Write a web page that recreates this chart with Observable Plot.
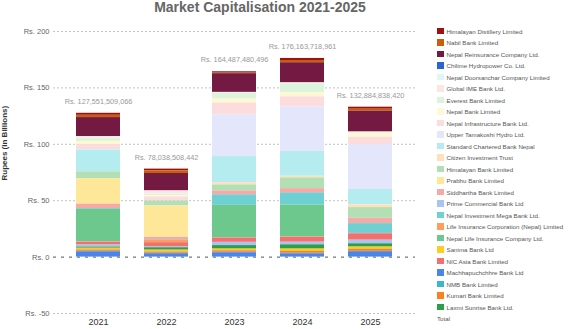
<!DOCTYPE html>
<html><head><meta charset="utf-8">
<script src="https://cdn.jsdelivr.net/npm/d3@7"></script>
<script src="https://cdn.jsdelivr.net/npm/@observablehq/plot@0.6"></script>
<style>
body{margin:0;background:#fff;font-family:"Liberation Sans",Arial,sans-serif;}
#wrap{position:relative;width:587px;height:329px;overflow:hidden;}
#title{position:absolute;left:0;width:520px;top:-1px;text-align:center;font-size:14px;font-weight:bold;color:#666;line-height:16px;}
#legend{position:absolute;left:437px;top:0;width:150px;height:329px;}
.item{position:absolute;left:0;height:11.5px;white-space:nowrap;font-size:6.2px;color:#555;display:flex;align-items:center;}
.sw{width:6.5px;height:6.5px;margin-right:3px;flex:none;}
#chart{position:absolute;left:0;top:0;}
</style></head><body>
<div id="wrap"><div id="chart"></div><div id="title">Market Capitalisation 2021-2025</div><div id="legend"></div></div>
<script>
const years = ["2021", "2022", "2023", "2024", "2025"];
const companies = [
  "Himalayan Distillery Limited",
  "Nabil Bank Limited",
  "Nepal Reinsurance Company Ltd.",
  "Chilime Hydropower Co. Ltd.",
  "Nepal Doorsanchar Company Limited",
  "Global IME Bank Ltd.",
  "Everest Bank Limited",
  "Nepal Bank Limited",
  "Nepal Infrastructure Bank Ltd.",
  "Upper Tamakoshi Hydro Ltd.",
  "Standard Chartered Bank Nepal",
  "Citizen Investment Trust",
  "Himalayan Bank Limited",
  "Prabhu Bank Limited",
  "Siddhartha Bank Limited",
  "Prime Commercial Bank Ltd",
  "Nepal Investment Mega Bank Ltd.",
  "Life Insurance Corporation (Nepal) Limited",
  "Nepal Life Insurance Company Ltd.",
  "Sanima Bank Ltd",
  "NIC Asia Bank Limited",
  "Machhapuchchhre Bank Ltd",
  "NMB Bank Limited",
  "Kumari Bank Limited",
  "Laxmi Sunrise Bank Ltd."
];
const colors = [
  "#a01010", "#c8600a", "#741942", "#2a62d8", "#dff6f8",
  "#fde6e2", "#dcf3dc", "#fff8d2", "#fcdcdc", "#e4e6fc",
  "#b4ecf0", "#ffe0b8", "#b2e0b4", "#ffe79a", "#f6aaa6",
  "#a8c4f4", "#6fd0d4", "#ff9d5c", "#6cc88c", "#ffcc22",
  "#f27070", "#4a86ea", "#3ab8c8", "#ff7f1a", "#2f9e4a"
];
// values in billions of rupees, [2021, 2022, 2023, 2024, 2025]
const s01 = [1.8, 1.5, 1.2, 1.8, 1.8];
const s02 = [2.0, 2.4, 0.5, 2.0, 1.8];
const s03 = [16.9, 15.4, 16.6, 17.8, 18.4];
const s04 = [0.7, 0.5, 0.8, 0.7, 0.9];
const s05 = [0.7, 0.8, 0.5, 0.4, 0.3];
const s06 = [0.6, 2.5, 0.4, 0.4, 0.3];
const s07 = [2.9, 0.8, 5.0, 8.0, 0.3];
const s08 = [2.9, 1.2, 3.6, 3.6, 3.8];
const s09 = [4.4, 3.6, 10.4, 8.9, 6.5];
const s10 = [0.4, 0, 37.0, 39.5, 39.8];
const s11 = [19.3, 0, 23.1, 22.0, 13.6];
const s12 = [0, 0, 2.0, 1.5, 2.4];
const s13 = [6.0, 4.4, 5.3, 9.5, 9.5];
const s14 = [22.7, 28.0, 0, 0, 0];
const s15 = [3.8, 2.4, 3.6, 3.8, 4.7];
const s16 = [2.0, 0.9, 2.9, 2.4, 3.3];
const s17 = [0.4, 0, 8.9, 10.4, 8.3];
const s18 = [0.3, 2.0, 0.3, 0.3, 0.3];
const s19 = [28.8, 0, 28.7, 28.2, 0];
const s20 = [1.7, 1.8, 1.7, 2.3, 2.3];
const s21 = [2.4, 3.6, 3.8, 4.4, 5.6];
const s22 = [4.6, 3.0, 3.6, 2.8, 4.4];
const s23 = [0.3, 0.2, 0.3, 0.3, 0.4];
const s24 = [1.0, 1.0, 1.2, 1.5, 1.5];
const s25 = [0.9, 2.0, 2.9, 3.6, 2.7];
const seriesValues = [s01, s02, s03, s04, s05, s06, s07, s08, s09, s10, s11, s12, s13,
  s14, s15, s16, s17, s18, s19, s20, s21, s22, s23, s24, s25];
// stacking order, bottom to top (1-based legend positions)
const stackOrder = [22, 4, 24, 20, 25, 16, 21, 18, 19, 17, 23, 15, 14, 13, 12, 11, 10, 9, 8, 7, 5, 6, 3, 2, 1];
const totals = [127.551509066, 78.038508442, 164.487480496, 176.163718961, 132.884838420];
const totalLabels = ["Rs. 127,551,509,066", "Rs. 78,038,508,442", "Rs. 164,487,480,496", "Rs. 176,163,718,961", "Rs. 132,884,838,420"];
const yTicks = [-50, 0, 50, 100, 150, 200];
const legendExtra = "Total";

const rows = companies.flatMap((name, i) => years.map((year, j) => ({year, name, value: seriesValues[i][j]})));
const orderNames = stackOrder.map(k => companies[k - 1]);

const chart = Plot.plot({
  width: 587, height: 329,
  marginLeft: 53, marginRight: 172, marginTop: 31, marginBottom: 16,
  x: {domain: years, paddingInner: 0.35, paddingOuter: 0.335, label: null},
  y: {domain: [-50, 200], label: null},
  color: {domain: companies, range: colors},
  style: {fontFamily: "'Liberation Sans', Arial, sans-serif", background: "transparent"},
  marks: [
    Plot.ruleY(yTicks.filter(d => d !== 0), {stroke: "#c2c2c2", strokeDasharray: "2,2"}),
    Plot.ruleY([0], {stroke: "#555", strokeDasharray: "3,5"}),
    Plot.barY(rows, {x: "year", y: "value", z: "name", fill: "name", order: orderNames}),
    Plot.text(years, {x: d => d, y: (d, i) => totals[i], text: (d, i) => totalLabels[i], dy: -11.5, fill: "#999", fontSize: 7.3}),
    Plot.axisY({ticks: yTicks, tickFormat: d => "Rs. " + d, tickSize: 0, tickPadding: 4, fontSize: 7.5, fill: "#666", label: null}),
    Plot.axisX({tickSize: 0, tickPadding: 5, fontSize: 9, fill: "#333", label: null}),
    Plot.text(["Rupees (in Billions)"], {frameAnchor: "left", dx: -49, dy: 8, rotate: -90, fontSize: 8, fontWeight: "bold", fill: "#333"})
  ]
});
document.getElementById("chart").appendChild(chart);

const legend = document.getElementById("legend");
companies.forEach((name, i) => {
  const it = document.createElement("div");
  it.className = "item";
  it.style.top = (31 + i * 11.5 - 5.75) + "px";
  const sw = document.createElement("span");
  sw.className = "sw";
  sw.style.background = colors[i];
  const tx = document.createElement("span");
  tx.textContent = name;
  it.appendChild(sw); it.appendChild(tx);
  legend.appendChild(it);
});
const last = document.createElement("div");
last.className = "item";
last.style.top = (31 + companies.length * 11.5 - 5.75) + "px";
last.textContent = legendExtra;
legend.appendChild(last);
</script>
</body></html>
